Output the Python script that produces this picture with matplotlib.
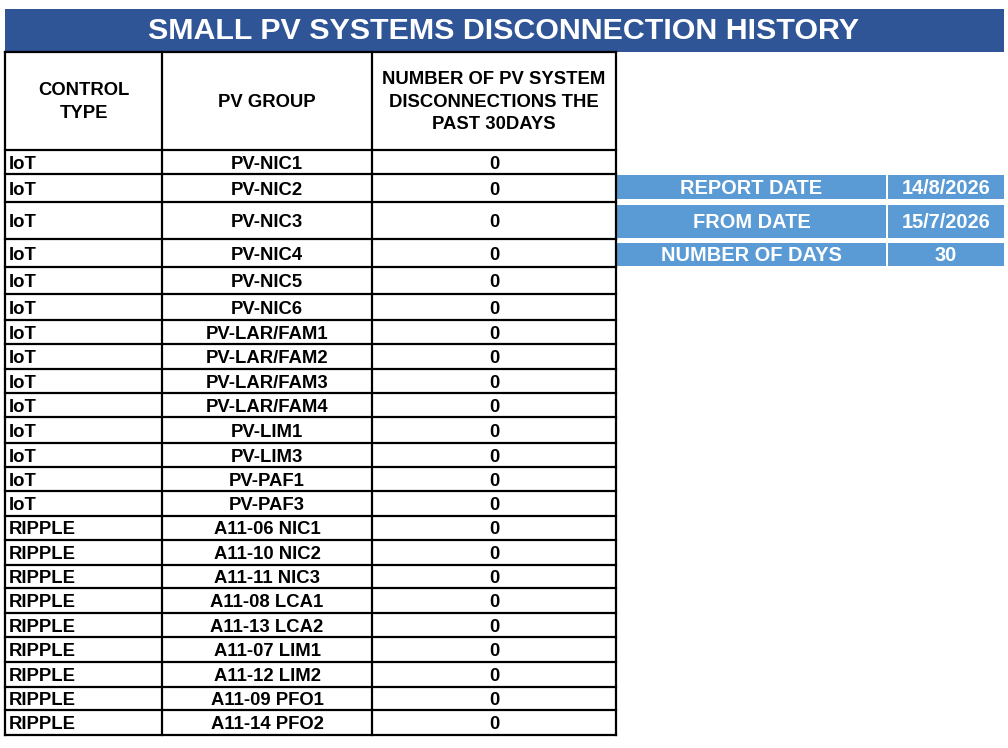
import matplotlib
matplotlib.use("Agg")
import matplotlib.pyplot as plt
from matplotlib.patches import Rectangle

# ---- data ----
title = "SMALL PV SYSTEMS DISCONNECTION HISTORY"
headers = ["CONTROL\nTYPE", "PV GROUP", "NUMBER OF PV SYSTEM\nDISCONNECTIONS THE\nPAST 30DAYS"]
control_types = ["IoT"] * 14 + ["RIPPLE"] * 9
pv_groups = [
    "PV-NIC1", "PV-NIC2", "PV-NIC3", "PV-NIC4", "PV-NIC5", "PV-NIC6",
    "PV-LAR/FAM1", "PV-LAR/FAM2", "PV-LAR/FAM3", "PV-LAR/FAM4",
    "PV-LIM1", "PV-LIM3", "PV-PAF1", "PV-PAF3",
    "A11-06 NIC1", "A11-10 NIC2", "A11-11 NIC3", "A11-08 LCA1", "A11-13 LCA2",
    "A11-07 LIM1", "A11-12 LIM2", "A11-09 PFO1", "A11-14 PFO2",
]
disconnections = [0] * 23
info_labels = ["REPORT DATE", "FROM DATE", "NUMBER OF DAYS"]
info_values = ["14/8/2026", "15/7/2026", "30"]

# ---- layout (pixels) ----
W, H = 1008, 748
col_x = [5, 162, 372, 616]
row_y = [52, 150, 174, 202, 239, 267, 294, 320, 344, 369, 393, 417, 443,
         467, 491, 516, 540, 565, 588, 613, 637, 662, 687, 710, 735]
info_boxes = [(175, 199), (205, 238), (243, 266)]
info_x = [617, 886, 888, 1004]

dark_blue = "#2F5597"
light_blue = "#5B9BD5"
font = "Liberation Sans"
fs = 13.3

fig = plt.figure(figsize=(W / 100, H / 100), dpi=100)
ax = fig.add_axes([0, 0, 1, 1])
ax.set_xlim(0, W)
ax.set_ylim(H, 0)
ax.axis("off")

# title bar
ax.add_patch(Rectangle((5, 9), 999, 43, color=dark_blue, lw=0))
ax.text(504, 31, title, color="white", fontsize=21.9, fontweight="bold",
        family=font, ha="center", va="center")

# header texts
for i, h in enumerate(headers):
    cx = (col_x[i] + col_x[i + 1]) / 2
    ax.text(cx, (row_y[0] + row_y[1]) / 2 + 1, h, fontsize=fs, fontweight="bold",
            family=font, ha="center", va="center", linespacing=1.45)

# rows
for r in range(len(pv_groups)):
    cy = (row_y[r + 1] + row_y[r + 2]) / 2 + 2
    ax.text(col_x[0] + 4, cy, control_types[r], fontsize=fs, fontweight="bold",
            family=font, ha="left", va="center")
    ax.text((col_x[1] + col_x[2]) / 2, cy, pv_groups[r], fontsize=fs,
            fontweight="bold", family=font, ha="center", va="center")
    ax.text((col_x[2] + col_x[3]) / 2, cy, str(disconnections[r]), fontsize=fs,
            fontweight="bold", family=font, ha="center", va="center")

# grid lines
for y in row_y:
    ax.plot([col_x[0], col_x[-1]], [y, y], color="black", lw=1.6,
            solid_capstyle="projecting")
for x in col_x:
    ax.plot([x, x], [row_y[0], row_y[-1]], color="black", lw=1.6,
            solid_capstyle="projecting")

# info panel
for (y0, y1), lab, val in zip(info_boxes, info_labels, info_values):
    ax.add_patch(Rectangle((info_x[0], y0), info_x[1] - info_x[0], y1 - y0,
                           color=light_blue, lw=0))
    ax.add_patch(Rectangle((info_x[2], y0), info_x[3] - info_x[2], y1 - y0,
                           color=light_blue, lw=0))
    cy = (y0 + y1) / 2 + 1
    ax.text((info_x[0] + info_x[1]) / 2, cy, lab, color="white", fontsize=14.4,
            fontweight="bold", family=font, ha="center", va="center")
    ax.text((info_x[2] + info_x[3]) / 2, cy, val, color="white", fontsize=14.4,
            fontweight="bold", family=font, ha="center", va="center")

fig.savefig("out.png", dpi=100)
